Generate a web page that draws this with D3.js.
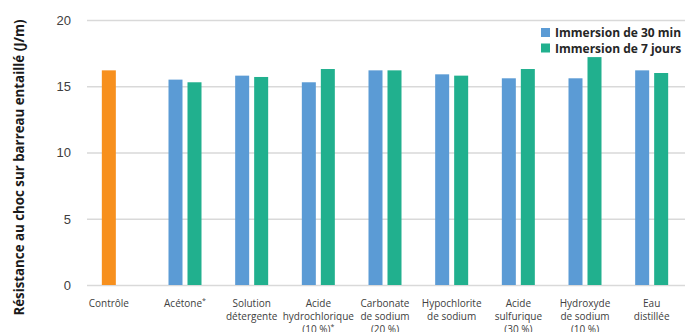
<!DOCTYPE html>
<html>
<head>
<meta charset="utf-8">
<script src="https://cdn.jsdelivr.net/npm/d3@7"></script>
<style>
  html, body { margin: 0; padding: 0; background: #fff; }
  svg { display: block; font-family: "Open Sans", "Noto Sans", sans-serif; }
</style>
</head>
<body>
<svg id="chart" width="700" height="332"></svg>
<script>
// Category labels (lines separated by "\n"; a trailing "*" is drawn as a superscript)
const categories = [
  "Contrôle",
  "Acétone*",
  "Solution\ndétergente",
  "Acide\nhydrochlorique\n(10 %)*",
  "Carbonate\nde sodium\n(20 %)",
  "Hypochlorite\nde sodium",
  "Acide\nsulfurique\n(30 %)",
  "Hydroxyde\nde sodium\n(10 %)",
  "Eau\ndistillée"
];

// Notched impact resistance (J/m)
const controle      = [16.2, null, null, null, null, null, null, null, null];
const immersion30   = [null, 15.5, 15.8, 15.3, 16.2, 15.9, 15.6, 15.6, 16.2];
const immersion7j   = [null, 15.3, 15.7, 16.3, 16.2, 15.8, 16.3, 17.2, 16.0];

const seriesNames = ["Immersion de 30 min", "Immersion de 7 jours"];
const yTicks = [0, 5, 10, 15, 20];
const yTitle = "Résistance au choc sur barreau entaillé (J/m)";

const colors = { controle: "#F7901E", s30: "#5B9BD5", s7: "#21B08E" };

const svg = d3.select("#chart");

const plot = { left: 85, right: 685, top: 20, bottom: 285, gridLeft: 87 };

const y = d3.scaleLinear().domain([0, 20]).range([plot.bottom, plot.top]);
const x0 = d3.scaleBand().domain(d3.range(categories.length)).range([plot.left, plot.right]);
const x1 = d3.scaleBand().domain(["s30", "s7"]).range([-16.5, 16.5]).paddingInner(0.263);

// Horizontal grid lines
const yAxis = d3.axisLeft(y).tickValues(yTicks)
  .tickSize(-(plot.right - plot.gridLeft)).tickPadding(16);
const gy = svg.append("g")
  .attr("transform", `translate(${plot.gridLeft},0)`)
  .call(yAxis);
gy.select(".domain").remove();
gy.selectAll(".tick line").attr("stroke", "#d9d9d9").attr("stroke-width", 1.3);
gy.selectAll(".tick text")
  .attr("fill", "#404040")
  .style("font-size", "13px")
  .attr("x", 71 - plot.gridLeft)
  .attr("dy", "0.34em");

// Bars
const bars = [];
categories.forEach((c, i) => {
  const cx = x0(i) + x0.bandwidth() / 2;
  if (controle[i] != null) bars.push({ i, v: controle[i], x: cx + x1("s30"), fill: colors.controle });
  if (immersion30[i] != null) bars.push({ i, v: immersion30[i], x: cx + x1("s30"), fill: colors.s30 });
  if (immersion7j[i] != null) bars.push({ i, v: immersion7j[i], x: cx + x1("s7"), fill: colors.s7 });
});

svg.append("g").selectAll("rect")
  .data(bars)
  .join("rect")
  .attr("x", d => d.x)
  .attr("width", x1.bandwidth())
  .attr("y", d => y(d.v))
  .attr("height", d => y(0) - y(d.v))
  .attr("fill", d => d.fill);

// Category labels, centred under the bars drawn for each category
const labelG = svg.append("g").attr("fill", "#404040").style("font-size", "10px");
categories.forEach((c, i) => {
  const own = bars.filter(b => b.i === i);
  const cx = (d3.min(own, b => b.x) + d3.max(own, b => b.x + x1.bandwidth())) / 2;
  const t = labelG.append("text").attr("text-anchor", "middle").attr("x", cx).attr("y", 307);
  c.split("\n").forEach((line, k) => {
    const star = line.endsWith("*");
    const txt = star ? line.slice(0, -1) : line;
    t.append("tspan").attr("x", cx).attr("dy", k === 0 ? 0 : 13).text(txt);
    if (star) {
      t.append("tspan").attr("dy", -4).style("font-size", "7px").text("*");
      t.append("tspan").attr("dy", 4).text("");
    }
  });
});

// Y axis title
svg.append("text")
  .attr("transform", "translate(23.5,167.5) rotate(-90)")
  .attr("text-anchor", "middle")
  .attr("fill", "#1a1a1a")
  .style("font-size", "13.3px")
  .style("font-weight", "bold")
  .text(yTitle);

// Legend
const legend = svg.append("g");
const legendColors = [colors.s30, colors.s7];
seriesNames.forEach((name, k) => {
  const gy0 = 28 + k * 15.5;
  legend.append("rect").attr("x", 541).attr("y", gy0).attr("width", 9).attr("height", 9)
    .attr("fill", legendColors[k]);
  legend.append("text").attr("x", 555).attr("y", gy0 + 9)
    .attr("fill", "#262626")
    .style("font-size", "12px").style("font-weight", "bold")
    .text(name);
});
</script>
</body>
</html>
